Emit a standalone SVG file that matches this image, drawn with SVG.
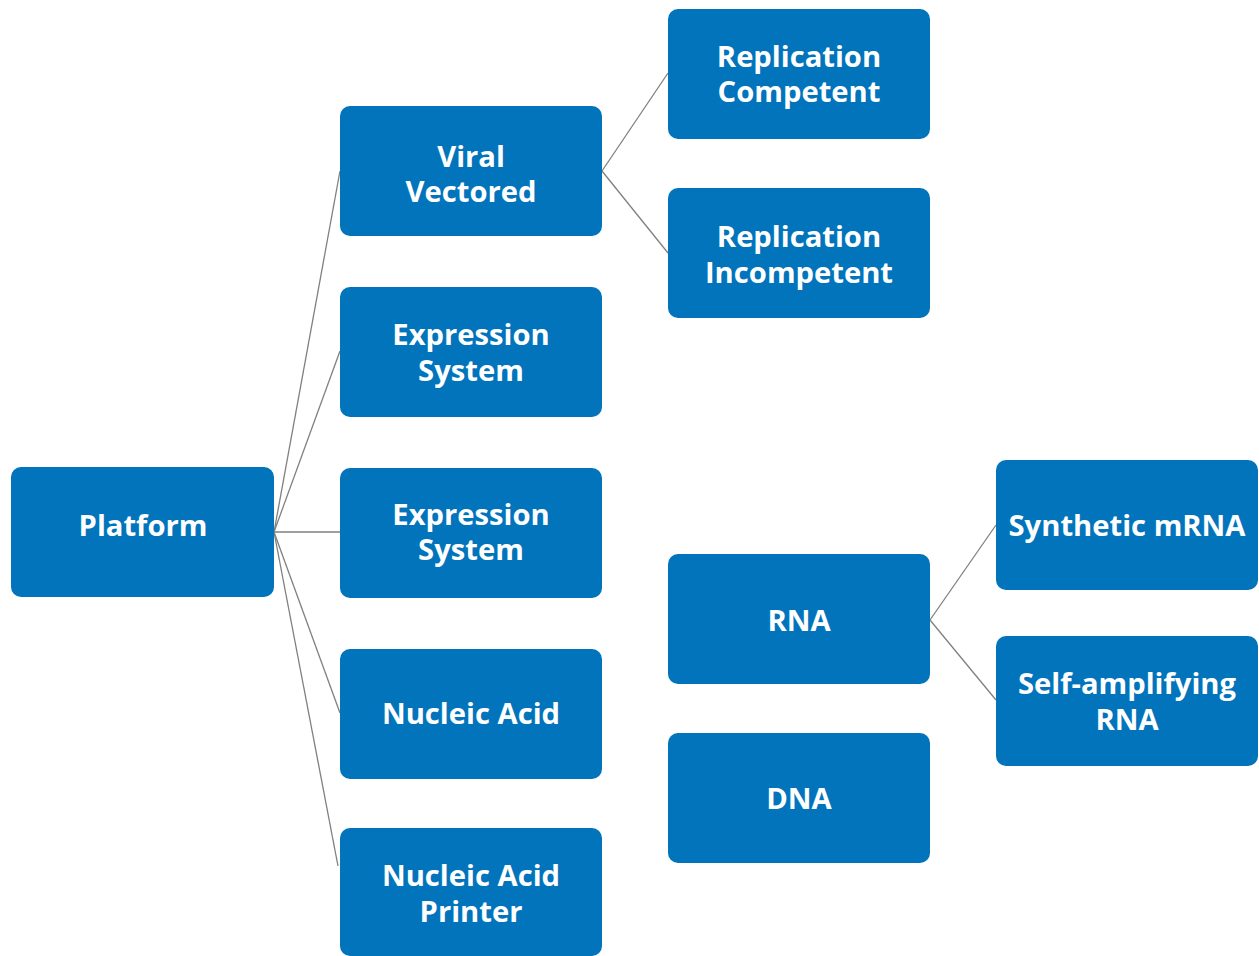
<svg xmlns="http://www.w3.org/2000/svg" width="1259" height="956" viewBox="0 0 1259 956">
<style>
.box{fill:#0174BC;}
.lbl{font-family:"Open Sans","Liberation Sans",sans-serif;font-weight:700;font-size:29.2px;fill:#FFFFFF;text-anchor:middle;}
.conn{stroke:#808080;stroke-width:1.3;fill:none;}
</style>
<rect width="1259" height="956" fill="#FFFFFF"/>
<g id="connectors">
<line class="conn" x1="274" y1="532" x2="340" y2="171"/>
<line class="conn" x1="274" y1="532" x2="340" y2="351"/>
<line class="conn" x1="274" y1="532" x2="340" y2="532"/>
<line class="conn" x1="274" y1="532" x2="340" y2="713"/>
<line class="conn" x1="274" y1="532" x2="338" y2="866"/>
<line class="conn" x1="602" y1="171" x2="668" y2="73"/>
<line class="conn" x1="602" y1="171" x2="668" y2="253"/>
<line class="conn" x1="930" y1="620" x2="996" y2="525"/>
<line class="conn" x1="930" y1="620" x2="996" y2="700"/>
</g>
<g id="platform"><rect class="box" x="11" y="467" width="263" height="130" rx="10"/><text class="lbl" x="143" y="536">Platform</text></g>
<g id="viral-vectored"><rect class="box" x="340" y="106" width="262" height="130" rx="10"/><text class="lbl" x="471" y="167">Viral</text><text class="lbl" x="471" y="202">Vectored</text></g>
<g id="expression-system-1"><rect class="box" x="340" y="287" width="262" height="130" rx="10"/><text class="lbl" x="471" y="345">Expression</text><text class="lbl" x="471" y="381">System</text></g>
<g id="expression-system-2"><rect class="box" x="340" y="468" width="262" height="130" rx="10"/><text class="lbl" x="471" y="525">Expression</text><text class="lbl" x="471" y="560">System</text></g>
<g id="nucleic-acid"><rect class="box" x="340" y="649" width="262" height="130" rx="10"/><text class="lbl" x="471" y="724">Nucleic Acid</text></g>
<g id="nucleic-acid-printer"><rect class="box" x="340" y="828" width="262" height="128" rx="10"/><text class="lbl" x="471" y="886">Nucleic Acid</text><text class="lbl" x="471" y="922">Printer</text></g>
<g id="replication-competent"><rect class="box" x="668" y="9" width="262" height="130" rx="10"/><text class="lbl" x="799" y="67">Replication</text><text class="lbl" x="799" y="102">Competent</text></g>
<g id="replication-incompetent"><rect class="box" x="668" y="188" width="262" height="130" rx="10"/><text class="lbl" x="799" y="247">Replication</text><text class="lbl" x="799" y="283">Incompetent</text></g>
<g id="rna"><rect class="box" x="668" y="554" width="262" height="130" rx="10"/><text class="lbl" x="799" y="631">RNA</text></g>
<g id="dna"><rect class="box" x="668" y="733" width="262" height="130" rx="10"/><text class="lbl" x="799" y="809">DNA</text></g>
<g id="synthetic-mrna"><rect class="box" x="996" y="460" width="262" height="130" rx="10"/><text class="lbl" x="1127" y="536">Synthetic mRNA</text></g>
<g id="self-amplifying-rna"><rect class="box" x="996" y="636" width="262" height="130" rx="10"/><text class="lbl" x="1127" y="694">Self-amplifying</text><text class="lbl" x="1127" y="730">RNA</text></g>
</svg>
